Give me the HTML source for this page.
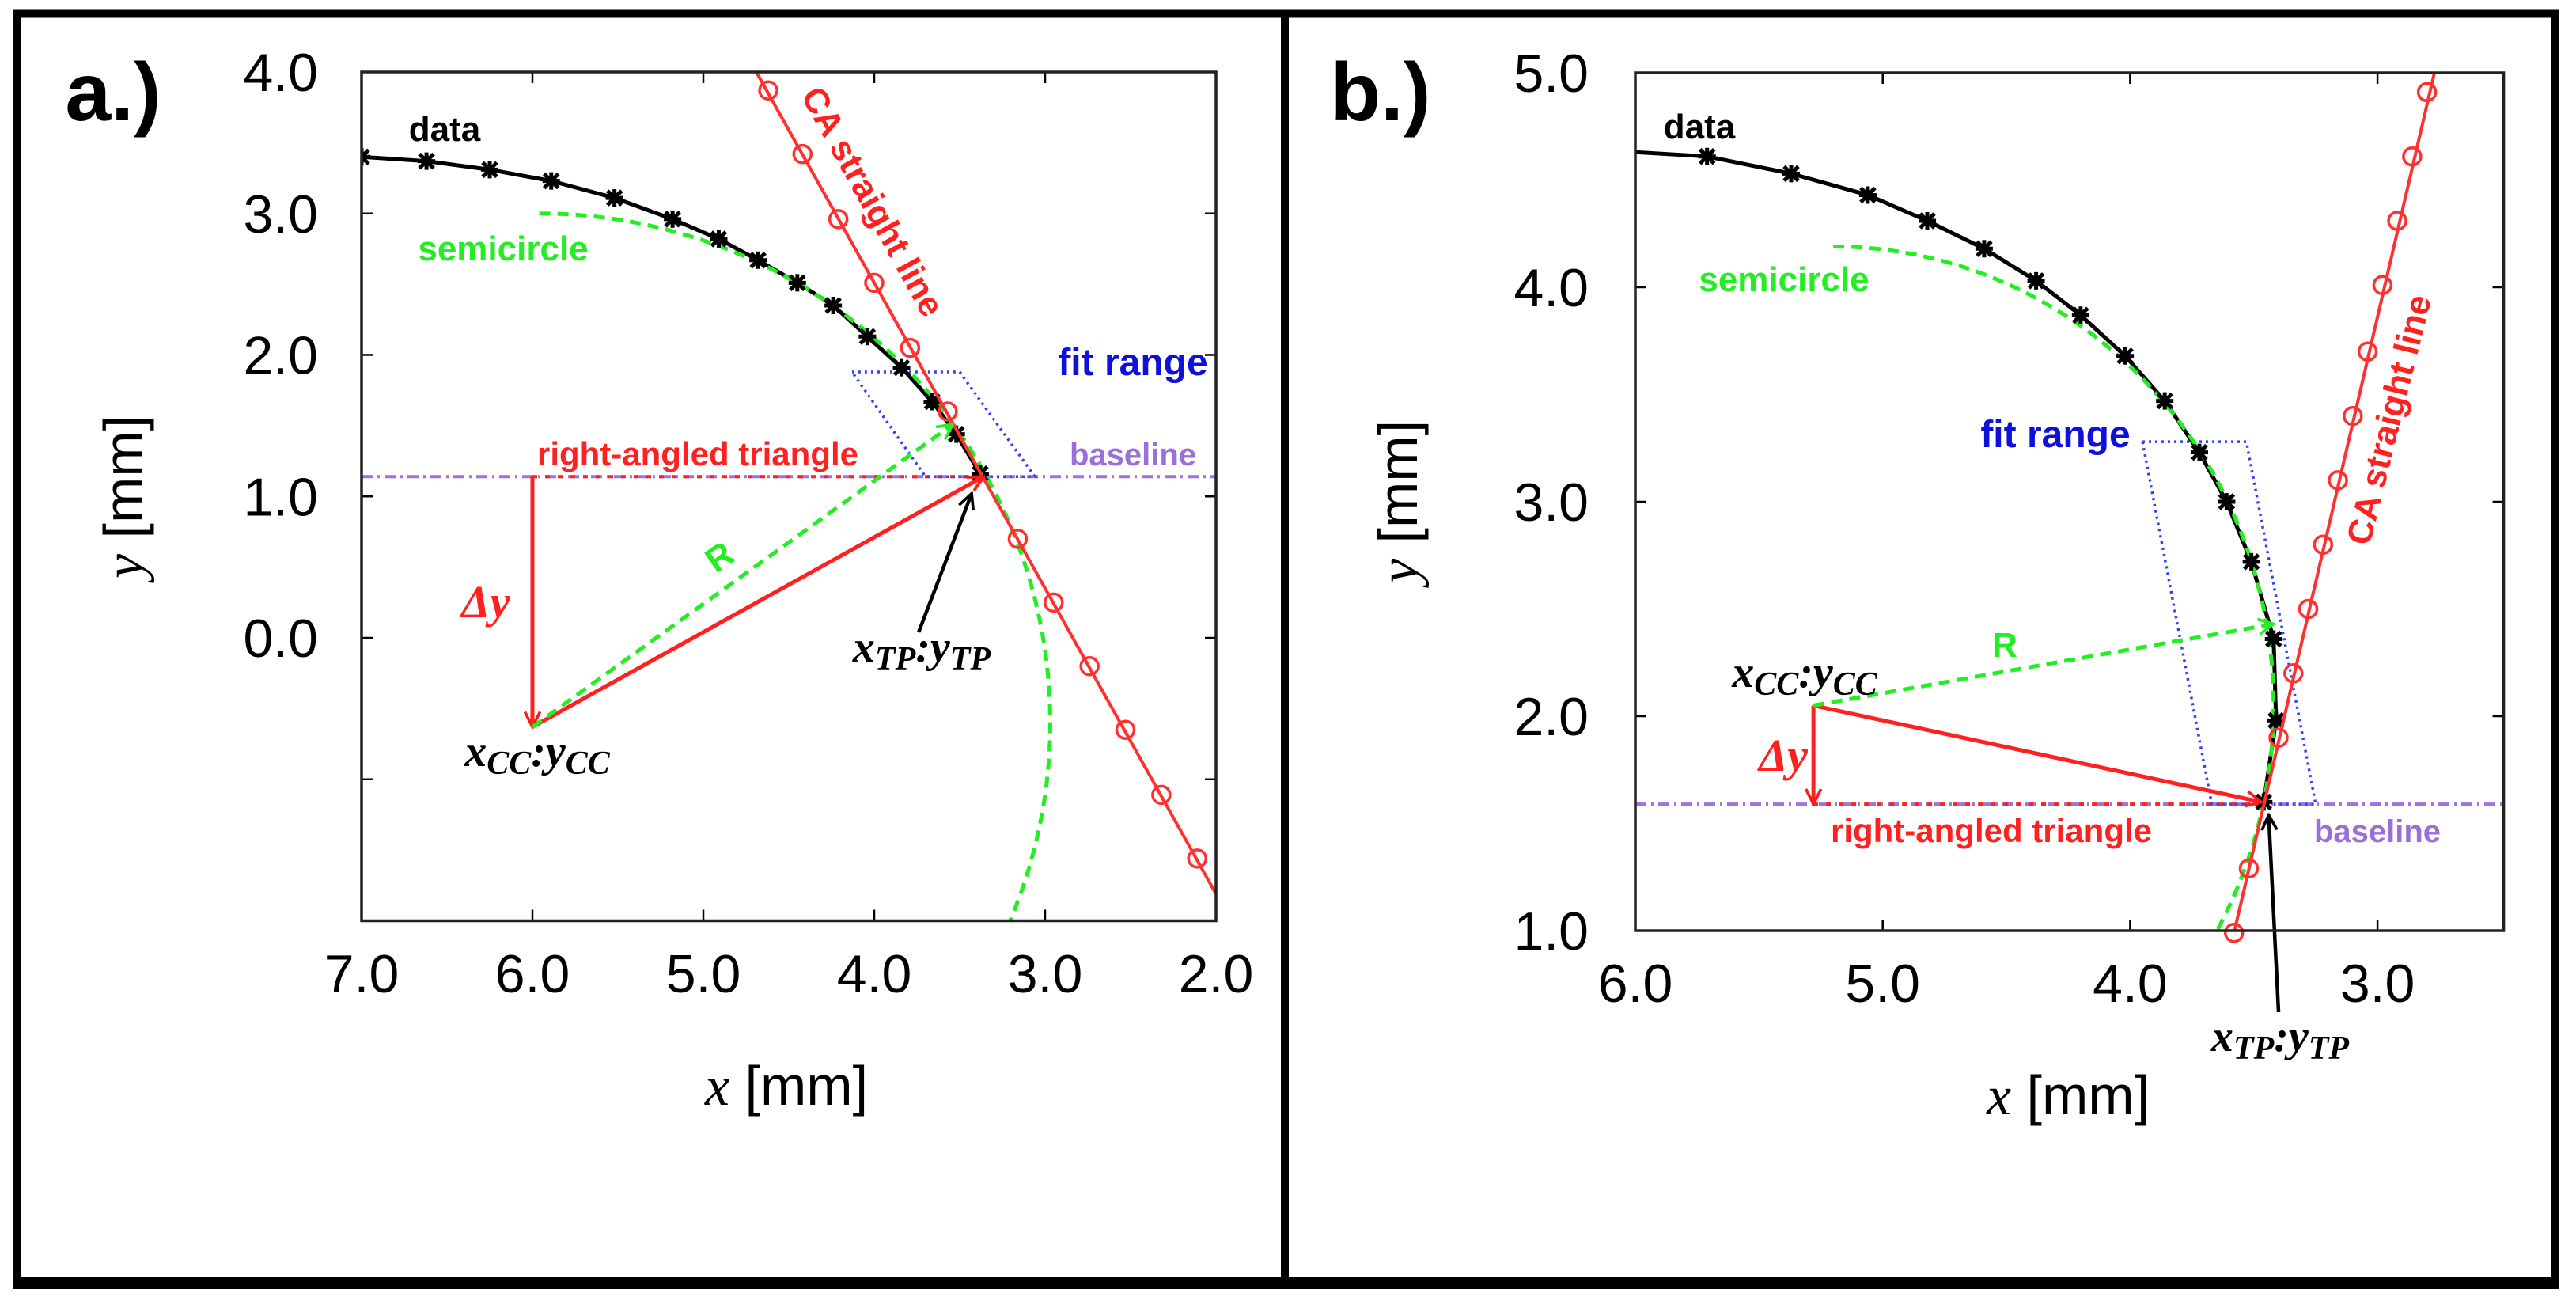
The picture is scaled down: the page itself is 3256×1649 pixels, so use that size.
<!DOCTYPE html>
<html><head><meta charset="utf-8"><style>
html,body{margin:0;padding:0;background:#fff}
svg{display:block}
text{font-family:"Liberation Sans",sans-serif}
.lbl{font-weight:bold;font-family:"Liberation Sans",sans-serif}
.math{font-family:"Liberation Serif",serif;font-style:italic;font-weight:bold}
</style></head><body>
<svg id="fig" width="3256" height="1649" viewBox="0 0 3256 1649" xmlns="http://www.w3.org/2000/svg">
<defs>
<marker id="arR" viewBox="0 0 20 20" refX="18" refY="10" markerWidth="24" markerHeight="24" markerUnits="userSpaceOnUse" orient="auto"><path d="M2,2 L18,10 L2,18" fill="none" stroke="#ff1a1a" stroke-width="3"/></marker>
<marker id="arG" viewBox="0 0 20 20" refX="18" refY="10" markerWidth="24" markerHeight="24" markerUnits="userSpaceOnUse" orient="auto"><path d="M2,2 L18,10 L2,18" fill="none" stroke="#22ee22" stroke-width="3"/></marker>
<marker id="arK" viewBox="0 0 20 20" refX="18" refY="10" markerWidth="24" markerHeight="24" markerUnits="userSpaceOnUse" orient="auto"><path d="M2,2 L18,10 L2,18" fill="none" stroke="#000" stroke-width="3"/></marker>
</defs>
<rect x="22" y="17.5" width="1602" height="1603.5" fill="none" stroke="#000" stroke-width="10"/>
<rect x="1624" y="17.5" width="1605" height="1603.5" fill="none" stroke="#000" stroke-width="10"/>
<line x1="17" y1="1621" x2="3234" y2="1621" stroke="#000" stroke-width="16"/>
<g id="pa"></g>
<g id="pb"></g>
</svg>
<script>
// ---------- Panel a data ----------
const aDataX = [7.0,6.62,6.25,5.89,5.52,5.18,4.91,4.68,4.45,4.24,4.04,3.84,3.66,3.52,3.38];
const aDataY = [3.40,3.37,3.31,3.23,3.11,2.96,2.82,2.67,2.51,2.35,2.13,1.91,1.67,1.44,1.16];
const aCaX = [4.62,4.42,4.21,4.00,3.79,3.57,3.16,2.95,2.74,2.53,2.32,2.11];
const aCaY = [3.87,3.42,2.96,2.51,2.05,1.60,0.70,0.25,-0.20,-0.65,-1.11,-1.56];
const aCaLineX = [4.69,2.0];
const aCaLineY = [4.0,-1.81];
const aSemi = [5.96,-0.6,2.99,3.6]; // cx, cy, rx, ry
const aSemiYEnd = [3.0,-2.0];
const aBaseline = [1.14];
const aCC = [6.0,-0.63];
const aTP = [3.36,1.14];
const aRTip = [3.54,1.51];
const aTPArrow = [3.74,0.04,3.43,1.02];
const aFitX = [4.13,3.50,3.06,3.70];
const aFitY = [1.88,1.88,1.14,1.14];
const aXTicks = [7,6,5,4,3,2];
const aXTickLabels = ["7.0","6.0","5.0","4.0","3.0","2.0"];
const aYTicks = [4,3,2,1,0,-1];
const aYTickLabels = ["4.0","3.0","2.0","1.0","0.0",""];
// ---------- Panel b data ----------
const bDataX = [6.0,5.71,5.37,5.06,4.82,4.59,4.38,4.20,4.02,3.86,3.72,3.61,3.51,3.42,3.41,3.46];
const bDataY = [4.63,4.61,4.53,4.43,4.31,4.18,4.03,3.87,3.68,3.47,3.23,3.00,2.72,2.36,1.98,1.60];
const bDataMarked = [0,1,1,1,1,1,1,1,1,1,1,1,1,1,1,1];
const bCaX = [3.58,3.52,3.40,3.34,3.28,3.22,3.16,3.10,3.04,2.98,2.92,2.86,2.80];
const bCaY = [0.99,1.29,1.90,2.20,2.50,2.80,3.10,3.40,3.70,4.01,4.31,4.61,4.91];
const bCaLineX = [3.58,2.77];
const bCaLineY = [0.99,5.0];
const bSemi = [5.2,2.05,1.78,2.14];
const bSemiYEnd = [4.19,1.0];
const bBaseline = [1.59];
const bCC = [5.28,2.05];
const bTP = [3.47,1.60];
const bRTip = [3.42,2.43];
const bTPArrow = [3.40,0.62,3.44,1.54];
const bFitX = [3.95,3.53,3.25,3.67];
const bFitY = [3.28,3.28,1.59,1.59];
const bXTicks = [6,5,4,3];
const bXTickLabels = ["6.0","5.0","4.0","3.0"];
const bYTicks = [5,4,3,2,1];
const bYTickLabels = ["5.0","4.0","3.0","2.0","1.0"];

const NS="http://www.w3.org/2000/svg";
function mk(parent,tag,attrs,text){const e=document.createElementNS(NS,tag);for(const k in attrs)e.setAttribute(k,attrs[k]);if(text!==undefined)e.textContent=text;parent.appendChild(e);return e;}

function panel(g,cfg){
  const X=v=>cfg.px0+(cfg.xmax-v)*cfg.sx;
  const Y=v=>cfg.py0+(cfg.ymax-v)*cfg.sy;
  const L=X(cfg.xmax),R=X(cfg.xmin),T=Y(cfg.ymax),B=Y(cfg.ymin);
  const clipId=cfg.id+"clip";
  const cp=mk(g,"clipPath",{id:clipId});mk(cp,"rect",{x:L,y:T,width:R-L,height:B-T});
  cfg.xt.forEach((t,i)=>{
    const tk=mk(g,"path",{d:`M${X(t)},${B}v-14M${X(t)},${T}v14`,stroke:"#000","stroke-width":2.5});
    
    
    const tl=mk(g,"text",{x:X(t),y:cfg.xly,"font-size":68,"text-anchor":"middle"},cfg.xtl[i]);
    
    
  });
  cfg.yt.forEach((t,i)=>{
    const tk=mk(g,"path",{d:`M${L},${Y(t)}h14M${R},${Y(t)}h-14`,stroke:"#000","stroke-width":2.5});
    
    
    if(cfg.ytl[i]){const tl=mk(g,"text",{x:cfg.ylx,y:Y(t)+24,"font-size":68,"text-anchor":"end"},cfg.ytl[i]);
    
    }
  });
  const c=mk(g,"g",{"clip-path":`url(#${clipId})`});
  const bl=mk(c,"line",{x1:L,x2:R,y1:Y(cfg.base[0]),y2:Y(cfg.base[0]),stroke:"#a070e0","stroke-width":4,"stroke-dasharray":"14,6,3,6"});
  
  
  const th=mk(c,"line",{x1:X(cfg.cc[0]),x2:X(cfg.tp[0]),y1:Y(cfg.base[0]),y2:Y(cfg.base[0]),stroke:"#ff2020","stroke-width":4,"stroke-dasharray":"6,10"});
  
  
  let fp=cfg.fx.map((v,i)=>X(v)+","+Y(cfg.fy[i])).join(" ");
  const fr=mk(c,"polygon",{points:fp,fill:"none",stroke:"#3344ee","stroke-width":3.5,"stroke-dasharray":"3,5"});
  
  
  const dp=mk(c,"polyline",{points:cfg.dx.map((v,i)=>X(v)+","+Y(cfg.dy[i])).join(" "),fill:"none",stroke:"#000","stroke-width":5,"stroke-linejoin":"round"});
  
  
  const [cx,cy,rx,ry]=cfg.semi;
  const a0=Math.asin(Math.max(-1,Math.min(1,(cfg.semiY[0]-cy)/ry))), a1=Math.asin(Math.max(-1,Math.min(1,(cfg.semiY[1]-cy)/ry)));
  let pts=[];for(let k=0;k<=120;k++){const a=a0+(a1-a0)*k/120;pts.push(X(cx-rx*Math.cos(a))+","+Y(cy+ry*Math.sin(a)));}
  const sc=mk(c,"polyline",{points:pts.join(" "),fill:"none",stroke:"#22ee22","stroke-width":5,"stroke-dasharray":"14,9"});
  
  
  cfg.dx.forEach((v,i)=>{ if(cfg.dm && !cfg.dm[i]) return;
    const x=X(v),y=Y(cfg.dy[i]);
    const m=mk(c,"path",{d:`M${x-9},${y-9}L${x+9},${y+9}M${x-9},${y+9}L${x+9},${y-9}M${x-11},${y}h22M${x},${y-11}v22`,stroke:"#000","stroke-width":5});
    
    
  });
  const cl=mk(c,"line",{x1:X(cfg.clx[0]),y1:Y(cfg.cly[0]),x2:X(cfg.clx[1]),y2:Y(cfg.cly[1]),stroke:"#ff3030","stroke-width":4});
  
  
  cfg.cx.forEach((v,i)=>{
    const o=mk(g,"circle",{cx:X(v),cy:Y(cfg.cy[i]),r:11,fill:"none",stroke:"#ff3030","stroke-width":3.5});
    
    
  });
  const v1=cfg.dyDown?cfg.base[0]:cfg.cc[1], v2=cfg.dyDown?cfg.cc[1]:cfg.base[0];
  const dya=mk(g,"line",{x1:X(cfg.cc[0]),x2:X(cfg.cc[0]),y1:Y(v1),y2:Y(v2),stroke:"#ff2020","stroke-width":5,"marker-end":"url(#arR)"});
  
  
  const ra=mk(g,"line",{x1:X(cfg.cc[0]),y1:Y(cfg.cc[1]),x2:X(cfg.tp[0]),y2:Y(cfg.tp[1]),stroke:"#ff2020","stroke-width":5,"marker-end":"url(#arR)"});
  
  
  const rg=mk(g,"line",{x1:X(cfg.cc[0]),y1:Y(cfg.cc[1]),x2:X(cfg.rt[0]),y2:Y(cfg.rt[1]),stroke:"#22ee22","stroke-width":5,"stroke-dasharray":"14,9","marker-end":"url(#arG)"});
  
  
  const ta=mk(g,"line",{x1:X(cfg.tpa[0]),y1:Y(cfg.tpa[1]),x2:X(cfg.tpa[2]),y2:Y(cfg.tpa[3]),stroke:"#000","stroke-width":4.5,"marker-end":"url(#arK)"});
  
  
  const fr2=mk(g,"rect",{x:L,y:T,width:R-L,height:B-T,fill:"none",stroke:"#222","stroke-width":3.5});
  
  
}

function txt(g,x,y,s,cls,fill,size,name,anchor,rot){
  const t=mk(g,"text",{x:x,y:y,"class":cls,fill:fill,"font-size":size,"text-anchor":anchor||"middle"},s);
  if(rot)t.setAttribute("transform",`rotate(${rot} ${x} ${y})`);
  
  
  return t;
}
function sub(g,x,y,a,sa,b,sb,name){
  const t=mk(g,"text",{x:x,y:y,"class":"math","font-size":56,"text-anchor":"middle",fill:"#000"});
  t.innerHTML=`${a}<tspan font-size="42" dy="10">${sa}</tspan><tspan dy="-10">:</tspan>${b}<tspan font-size="42" dy="10">${sb}</tspan>`;
  
  
}
function axTitles(g,xx,xy,yx,yy){
  const t1=mk(g,"text",{x:xx,y:xy,"font-size":70,"text-anchor":"middle"});
  t1.innerHTML='<tspan font-family="Liberation Serif" font-style="italic">x</tspan> [mm]';
  
  
  const t2=mk(g,"text",{x:yx,y:yy,"font-size":70,"text-anchor":"middle",transform:`rotate(-90 ${yx} ${yy})`});
  t2.innerHTML='<tspan font-family="Liberation Serif" font-style="italic">y</tspan> [mm]';
  
  
}

const ga=document.getElementById("pa"), gb=document.getElementById("pb");
panel(ga,{id:"a",px0:457,py0:91,sx:216,sy:178.75,xmax:7,xmin:2,ymax:4,ymin:-2,
  xt:aXTicks,xtl:aXTickLabels,yt:aYTicks,ytl:aYTickLabels,xly:1254,ylx:402,
  dx:aDataX,dy:aDataY,cx:aCaX,cy:aCaY,clx:aCaLineX,cly:aCaLineY,semi:aSemi,semiY:aSemiYEnd,
  base:aBaseline,cc:aCC,tp:aTP,rt:aRTip,tpa:aTPArrow,fx:aFitX,fy:aFitY,dyDown:true});
panel(gb,{id:"b",px0:2067,py0:92,sx:312.7,sy:271,xmax:6,xmin:2.49,ymax:5,ymin:1,
  xt:bXTicks,xtl:bXTickLabels,yt:bYTicks,ytl:bYTickLabels,xly:1266,ylx:2008,
  dx:bDataX,dy:bDataY,dm:bDataMarked,cx:bCaX,cy:bCaY,clx:bCaLineX,cly:bCaLineY,semi:bSemi,semiY:bSemiYEnd,
  base:bBaseline,cc:bCC,tp:bTP,rt:bRTip,tpa:bTPArrow,fx:bFitX,fy:bFitY,dyDown:false});

txt(ga,143,152,"a.)","lbl","#000",104,"panel-a-label");
txt(ga,562,178,"data","lbl","#000",44,"data-label");
txt(ga,636,329,"semicircle","lbl","#22ee22",44,"semicircle-label");
txt(ga,1432,474,"fit range","lbl","#1010dd",48,"fit-range-label");
txt(ga,882,588,"right-angled triangle","lbl","#ff2020",42,"triangle-label");
txt(ga,1432,588,"baseline","lbl","#9b6fd8",40,"baseline-label");
txt(ga,918,716,"R","lbl","#22ee22",44,"radius-label",null,-35);
txt(ga,614,780,"Δy","math","#ff2020",58,"delta-y-label");
txt(ga,1090,262,"CA straight line","lbl","#ff2020",44,"ca-line-label",null,61);
sub(ga,679,968,"x","CC","y","CC","center-label");
sub(ga,1165,836,"x","TP","y","TP","tp-label");
axTitles(ga,994,1396,180,628);

txt(gb,1745,152,"b.)","lbl","#000",104,"panel-b-label");
txt(gb,2148,175,"data","lbl","#000",44,"data-label");
txt(gb,2255,368,"semicircle","lbl","#22ee22",44,"semicircle-label");
txt(gb,2598,565,"fit range","lbl","#1010dd",48,"fit-range-label");
txt(gb,2534,830,"R","lbl","#22ee22",44,"radius-label");
sub(gb,2281,868,"x","CC","y","CC","center-label");
txt(gb,2254,974,"Δy","math","#ff2020",58,"delta-y-label");
txt(gb,2517,1064,"right-angled triangle","lbl","#ff2020",42,"triangle-label");
txt(gb,3005,1064,"baseline","lbl","#9b6fd8",40,"baseline-label");
txt(gb,3034,534,"CA straight line","lbl","#ff2020",44,"ca-line-label",null,-76);
sub(gb,2882,1328,"x","TP","y","TP","tp-label");
axTitles(gb,2614,1408,1791,634);
</script>
</body></html>
